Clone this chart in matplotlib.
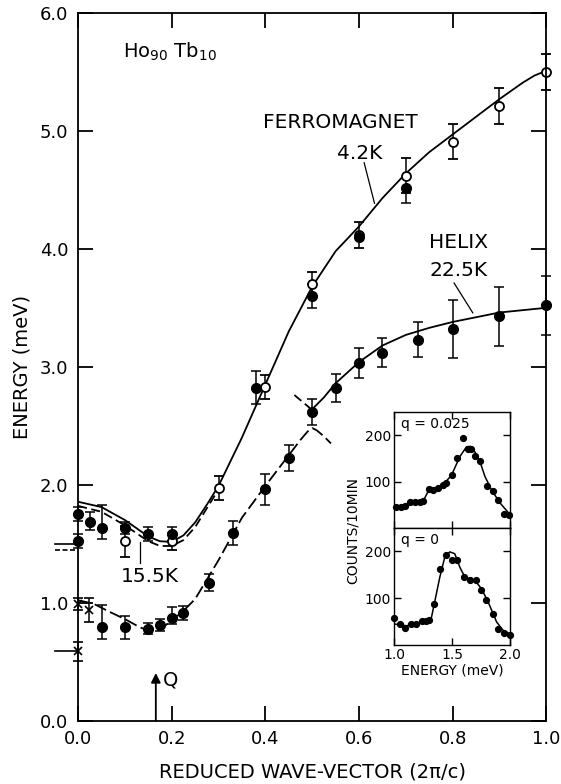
import matplotlib
matplotlib.use("Agg")
import matplotlib.pyplot as plt
import numpy as np

plt.rcParams['font.family'] = ['DejaVu Sans']
plt.rcParams['mathtext.fontset'] = 'dejavusans'

# ---------------- data: main panel ----------------
# Ferromagnet 4.2 K (open circles)
fm_q = [0.1, 0.2, 0.3, 0.4, 0.5, 0.6, 0.7, 0.8, 0.9, 1.0]
fm_E = [1.52, 1.52, 1.97, 2.83, 3.70, 4.12, 4.62, 4.91, 5.21, 5.50]
fm_err = [0.13, 0.07, 0.10, 0.10, 0.10, 0.11, 0.15, 0.15, 0.15, 0.15]

# Filled circles on the upper branch
up_q = [0.0, 0.0, 0.025, 0.05, 0.1, 0.15, 0.2, 0.38, 0.5, 0.6, 0.7]
up_E = [1.75, 1.52, 1.685, 1.63, 1.63, 1.585, 1.585, 2.82, 3.60, 4.10, 4.52]
up_err_lo = [0.06, 0.06, 0.07, 0.09, 0.05, 0.06, 0.06, 0.14, 0.10, 0.0, 0.13]
up_err_hi = [0.06, 0.06, 0.08, 0.20, 0.05, 0.06, 0.06, 0.14, 0.10, 0.0, 0.0]

# Helix 22.5 K (filled circles, lower branch)
hx_q = [0.05, 0.1, 0.15, 0.175, 0.2, 0.225, 0.28, 0.33, 0.4, 0.45, 0.5,
        0.55, 0.6, 0.65, 0.725, 0.8, 0.9, 1.0]
hx_E = [0.79, 0.79, 0.78, 0.81, 0.87, 0.91, 1.17, 1.59, 1.96, 2.23, 2.62,
        2.82, 3.03, 3.12, 3.23, 3.32, 3.43, 3.52]
hx_err_lo = [0.10, 0.10, 0.05, 0.05, 0.05, 0.06, 0.075, 0.10, 0.13, 0.11, 0.11,
             0.12, 0.125, 0.12, 0.15, 0.25, 0.25, 0.25]
hx_err_hi = [0.19, 0.10, 0.05, 0.05, 0.09, 0.06, 0.075, 0.10, 0.13, 0.11, 0.11,
             0.12, 0.125, 0.12, 0.15, 0.25, 0.25, 0.25]

# Crosses near q = 0
cx_q = [0.0, 0.024, 0.0]
cx_E = [0.985, 0.935, 0.586]
cx_err = [0.05, 0.10, 0.08]

# Fitted curves
fm_curve_q = [0.0, 0.05, 0.1, 0.15, 0.175, 0.2, 0.225, 0.25, 0.275, 0.3, 0.35, 0.4,
              0.45, 0.5, 0.55, 0.6, 0.65, 0.7, 0.75, 0.8, 0.85, 0.9, 0.95, 0.975, 1.0]
fm_curve_E = [1.855, 1.81, 1.70, 1.56, 1.52, 1.515, 1.57, 1.68, 1.83, 1.99, 2.40, 2.85,
              3.30, 3.68, 3.98, 4.19, 4.43, 4.64, 4.82, 4.97, 5.12, 5.27, 5.41, 5.47, 5.51]

t155_curve_q = [0.0, 0.05, 0.1, 0.15, 0.175, 0.2, 0.225, 0.25, 0.275, 0.3]
t155_curve_E = [1.82, 1.77, 1.655, 1.52, 1.48, 1.48, 1.53, 1.64, 1.80, 1.96]

hx_low_q = [0.0, 0.033, 0.068, 0.1, 0.132, 0.15, 0.174, 0.196, 0.225, 0.25, 0.3, 0.35,
            0.4, 0.45, 0.475, 0.49, 0.5, 0.51, 0.525, 0.54]
hx_low_E = [1.02, 0.99, 0.92, 0.86, 0.79, 0.765, 0.77, 0.835, 0.93, 1.03, 1.36, 1.72,
            1.99, 2.25, 2.38, 2.45, 2.48, 2.46, 2.41, 2.35]

hx_up_dash_q = [0.462, 0.48, 0.495]
hx_up_dash_E = [2.76, 2.70, 2.65]
hx_up_q = [0.5, 0.525, 0.55, 0.6, 0.65, 0.7, 0.75, 0.8, 0.85, 0.9, 0.95, 1.0]
hx_up_E = [2.64, 2.74, 2.86, 3.04, 3.18, 3.27, 3.33, 3.38, 3.42, 3.46, 3.48, 3.50]

# ---------------- data: inset ----------------
in_top_x = [1.02, 1.063, 1.098, 1.141, 1.184, 1.222, 1.251, 1.30, 1.337, 1.38, 1.424,
            1.452, 1.496, 1.545, 1.591, 1.64, 1.66, 1.697, 1.741, 1.798, 1.85, 1.899,
            1.948, 1.994]
in_top_y = [45, 46, 48, 56, 55, 55, 58, 84, 82, 86, 93, 98, 114, 150, 193, 171, 171,
            156, 145, 91, 79, 61, 30, 29]
in_top_cx = [1.0, 1.1, 1.2, 1.25, 1.294, 1.35, 1.424, 1.496, 1.568, 1.625, 1.66, 1.697,
             1.741, 1.784, 1.841, 1.914, 2.0]
in_top_cy = [43, 48, 54, 57, 79, 86, 93, 114, 154, 175, 176, 164, 143, 111, 82, 54, 29]

in_bot_x = [1.0, 1.049, 1.098, 1.144, 1.193, 1.242, 1.28, 1.30, 1.349, 1.40, 1.447,
            1.496, 1.545, 1.602, 1.654, 1.703, 1.746, 1.793, 1.85, 1.899, 1.948, 2.0]
in_bot_y = [58, 44, 36, 45, 45, 52, 52, 54, 88, 163, 193, 182, 182, 145, 139, 138,
            118, 97, 66, 34, 25, 21]
in_bot_cx = [1.0, 1.107, 1.2, 1.28, 1.323, 1.395, 1.438, 1.481, 1.524, 1.568, 1.611,
             1.697, 1.755, 1.813, 1.885, 1.942, 2.0]
in_bot_cy = [45, 41, 46, 52, 59, 145, 188, 199, 195, 166, 145, 138, 120, 91, 49, 31, 24]

xticks_main = [0.0, 0.2, 0.4, 0.6, 0.8, 1.0]
yticks_main = [0.0, 1.0, 2.0, 3.0, 4.0, 5.0, 6.0]

# ---------------- figure ----------------
W, H = 561, 784
fig = plt.figure(figsize=(W / 100, H / 100), dpi=100)

def fx(px):
    return px / W

def fy(py):
    return 1 - py / H

ax = fig.add_axes([fx(78.1), fy(720.5), fx(546.3) - fx(78.1), fy(13) - fy(720.5)])
ax.set_xlim(0, 1.0)
ax.set_ylim(0, 6.0)
for s in ax.spines.values():
    s.set_linewidth(1.3)
ax.set_xticks(xticks_main)
ax.set_xticklabels([f"{v:.1f}" for v in xticks_main])
ax.set_yticks(yticks_main)
ax.set_yticklabels([f"{v:.1f}" for v in yticks_main])
ax.tick_params(direction='in', length=11, width=1.3, labelsize=13,
               top=True, right=True, pad=7)
ax.set_xlabel("REDUCED WAVE-VECTOR (2π/c)", fontsize=14, labelpad=10)
ax.set_ylabel("ENERGY (meV)", fontsize=14, labelpad=6)

lw = 1.3
# curves
ax.plot(fm_curve_q, fm_curve_E, color='black', lw=lw, solid_capstyle='round')
l155, = ax.plot(t155_curve_q, t155_curve_E, color='black', lw=lw)
l155.set_dashes((5, 2.5))
lh, = ax.plot(hx_low_q, hx_low_E, color='black', lw=lw)
lh.set_dashes((7, 2.5))
lhd, = ax.plot(hx_up_dash_q, hx_up_dash_E, color='black', lw=lw)
lhd.set_dashes((5, 2.5))
ax.plot(hx_up_q, hx_up_E, color='black', lw=lw)

# marker lines left of the axis
ax.plot([-0.05, 0.0], [1.50, 1.50], color='black', lw=1.2, clip_on=False)
lm, = ax.plot([-0.05, 0.0], [1.45, 1.45], color='black', lw=1.2, clip_on=False)
lm.set_dashes((3, 1.5))
ax.plot([-0.05, 0.0], [0.586, 0.586], color='black', lw=1.2, clip_on=False)

ekw = dict(ecolor='black', elinewidth=1.1, capsize=3.5, capthick=1.1, linestyle='none')

e1 = ax.errorbar(fm_q, fm_E, yerr=fm_err, fmt='o', ms=6.5, mfc='white', mec='black',
                 mew=1.3, **ekw)
e2 = ax.errorbar(up_q, up_E, yerr=[up_err_lo, up_err_hi], fmt='o', ms=7, mfc='black',
                 mec='black', **ekw)
e3 = ax.errorbar(hx_q, hx_E, yerr=[hx_err_lo, hx_err_hi], fmt='o', ms=7, mfc='black',
                 mec='black', **ekw)
e4 = ax.errorbar(cx_q, cx_E, yerr=cx_err, fmt='x', ms=6, mec='black', mew=1.2, **ekw)
for e in (e1, e2, e3, e4):
    for child in e.get_children():
        child.set_clip_on(False)
    e[0].set_clip_on(False)

# text annotations
ax.text(0.096, 5.67, r"Ho$_{90}$ Tb$_{10}$", fontsize=14, ha='left', va='center')
ax.text(0.56, 5.07, "FERROMAGNET", fontsize=14.5, ha='center', va='center')
ax.text(0.602, 4.81, "4.2K", fontsize=14.5, ha='center', va='center')
ax.plot([0.611, 0.633], [4.73, 4.387], color='black', lw=0.9)
ax.text(0.812, 4.05, "HELIX", fontsize=14.5, ha='center', va='center')
ax.text(0.812, 3.82, "22.5K", fontsize=14.5, ha='center', va='center')
ax.plot([0.803, 0.843], [3.71, 3.457], color='black', lw=0.9)
ax.text(0.153, 1.22, "15.5K", fontsize=14.5, ha='center', va='center')
ax.plot([0.132, 0.132], [1.517, 1.336], color='black', lw=0.9)

# Q arrow
ax.annotate("", xy=(0.166, 0.403), xytext=(0.166, 0.0),
            arrowprops=dict(arrowstyle='-|>', color='black', lw=1.3,
                            mutation_scale=14, shrinkA=0, shrinkB=0))
ax.text(0.181, 0.343, "Q", fontsize=14, ha='left', va='center')

# ---------------- inset ----------------
ix0, ix1 = 394, 510
ax_top = fig.add_axes([fx(ix0), fy(528), fx(ix1) - fx(ix0), fy(412) - fy(528)])
ax_bot = fig.add_axes([fx(ix0), fy(645), fx(ix1) - fx(ix0), fy(528) - fy(645)])
for a in (ax_top, ax_bot):
    a.set_xlim(1.0, 2.0)
    a.set_ylim(0, 250)
    a.set_yticks([100, 200])
    a.set_xticks([1.0, 1.5, 2.0])
    a.tick_params(direction='in', length=5, width=1.0, labelsize=10, top=True,
                  right=True, pad=2)
    for s in a.spines.values():
        s.set_linewidth(1.0)
ax_top.set_xticklabels([])
ax_bot.set_xticklabels(["1.0", "1.5", "2.0"])

ax_top.plot(in_top_cx, in_top_cy, color='black', lw=1.1)
ax_top.plot(in_top_x, in_top_y, 'o', color='black', ms=4.2, clip_on=False)
ax_bot.plot(in_bot_cx, in_bot_cy, color='black', lw=1.1)
ax_bot.plot(in_bot_x, in_bot_y, 'o', color='black', ms=4.2, clip_on=False)

ax_top.text(0.06, 0.9, "q = 0.025", transform=ax_top.transAxes, fontsize=10,
            ha='left', va='center')
ax_bot.text(0.06, 0.9, "q = 0", transform=ax_bot.transAxes, fontsize=10,
            ha='left', va='center')
ax_bot.set_xlabel("ENERGY (meV)", fontsize=10, labelpad=1)
fig.text(fx(353), fy(530), "COUNTS/10MIN", rotation=90, fontsize=10,
         ha='center', va='center')

fig.savefig("out.png", dpi=100)
